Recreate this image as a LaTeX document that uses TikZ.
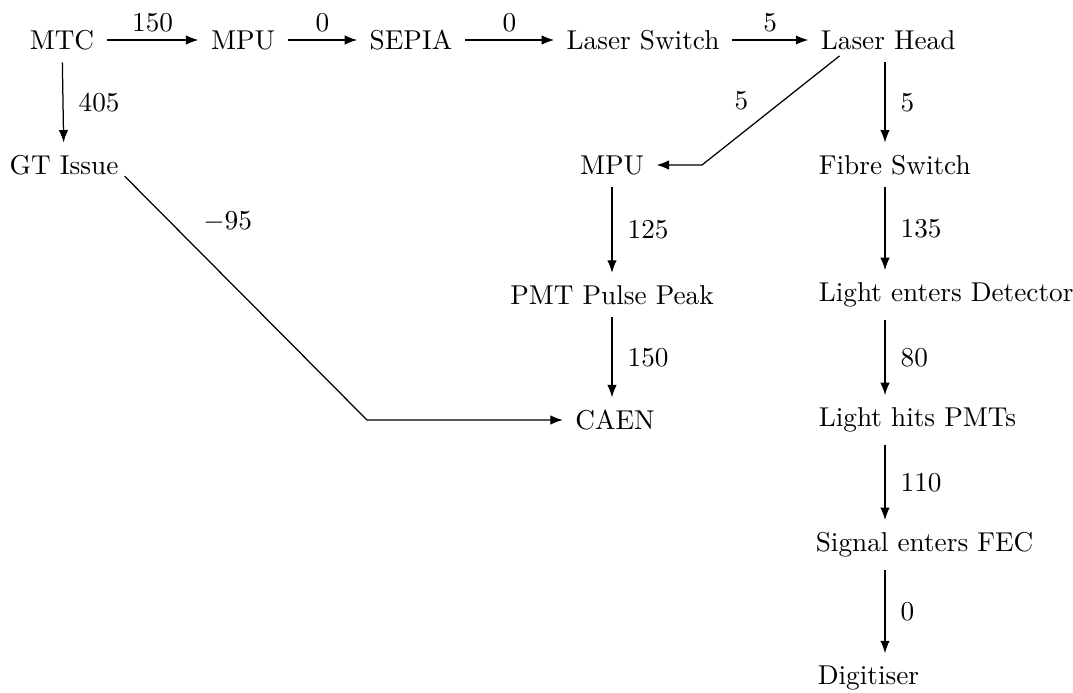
\documentclass[tikz,border=0pt]{standalone}
\usetikzlibrary{arrows.meta,calc,positioning}
\begin{document}
\begin{tikzpicture}[x=0.4pt,y=-0.4pt,
  every node/.style={font=\fontsize{10.9}{13}\selectfont},
  lbl/.style={inner sep=0pt,text=black},
  conn/.style={-{Latex[length=5pt,width=3.8pt]},line width=0.5pt,black,shorten <=1.5pt,shorten >=1.5pt}]
\useasboundingbox (0,0) rectangle (1073,693);
% nodes
\node (mtc) at (62,40) {MTC};
\node (mpua) at (243,40) {MPU};
\node (sepia) at (411,40) {SEPIA};
\node (ls) at (643,40) {Laser Switch};
\node[anchor=west] (lh) at (812,40) {Laser Head};
\node (gt) at (64,165) {GT Issue};
\node (mpub) at (612,165) {MPU};
\node[anchor=west] (fs) at (810,165) {Fibre Switch};
\node (pmt) at (612,295) {PMT Pulse Peak};
\node[anchor=west] (led) at (810,295) {Light enters Detector};
\node (caen) at (615,420) {CAEN};
\node[anchor=west] (lhp) at (810,420) {Light hits PMTs};
\node[anchor=west] (sef) at (807,545) {Signal enters FEC};
\node[anchor=west] (dig) at (809,678) {Digitiser};
% helper coordinates
\coordinate (colr) at (885,0);
\coordinate (b1) at (702,165);
\coordinate (b2) at (367,420);
% top row
\draw[conn] (mtc) -- node[lbl,above=3pt] {150} (mpua);
\draw[conn] (mpua) -- node[lbl,above=3pt] {0} (sepia);
\draw[conn] (sepia) -- node[lbl,above=3pt] {0} (ls);
\draw[conn] (ls) -- node[lbl,above=3pt] {5} (lh);
% left column
\draw[conn] (mtc) -- node[lbl,right=6pt] {405} (gt);
% laser head to MPU
\draw[conn,shorten <=0pt] ([xshift=11pt,yshift=1pt]lh.south west) -- node[lbl,pos=0.55,above left=2pt and 6pt] {5} (b1) -- (mpub.east);
% GT issue to CAEN
\draw[conn,shorten <=0pt] ([xshift=-1pt,yshift=3pt]gt.south east) -- node[lbl,pos=0.25,above right=2pt and 7pt] {$-95$} (b2) -- (caen.west);
% middle column
\draw[conn] (mpub) -- node[lbl,right=6pt] {125} (pmt);
\draw[conn] (pmt) -- node[lbl,right=6pt] {150} (caen.north -| pmt);
% right column
\draw[conn] (lh.south -| colr) -- node[lbl,right=6pt] {5} (fs.north -| colr);
\draw[conn] (fs.south -| colr) -- node[lbl,right=6pt] {135} (led.north -| colr);
\draw[conn] (led.south -| colr) -- node[lbl,right=6pt] {80} (lhp.north -| colr);
\draw[conn] (lhp.south -| colr) -- node[lbl,right=6pt] {110} (sef.north -| colr);
\draw[conn] (sef.south -| colr) -- node[lbl,right=6pt] {0} (dig.north -| colr);
\end{tikzpicture}
\end{document}
